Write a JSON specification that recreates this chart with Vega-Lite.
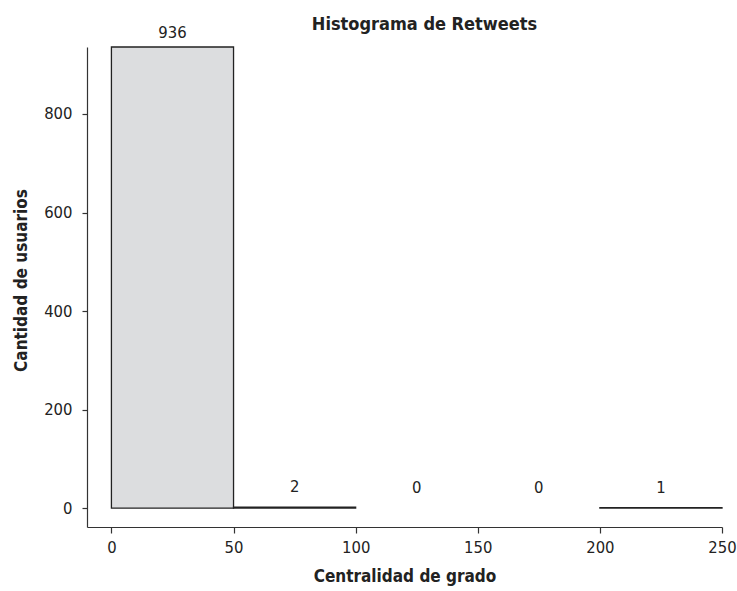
{
  "$schema": "https://vega.github.io/schema/vega-lite/v6.json",
  "width": 635,
  "height": 480,
  "autosize": {"type": "none"},
  "padding": {"left": 87, "top": 47, "right": 15, "bottom": 64},
  "background": "white",
  "config": {
    "view": {"stroke": null},
    "font": "DejaVu Sans Condensed, sans-serif"
  },
  "title": {
    "text": "Histograma de Retweets",
    "font": "DejaVu Sans Condensed, sans-serif",
    "fontSize": 18,
    "fontWeight": "bold",
    "color": "#222222",
    "anchor": "middle",
    "frame": "group",
    "dx": 20,
    "baseline": "alphabetic",
    "offset": -23
  },
  "data": {
    "values": [
      {"bin_start": 0, "bin_end": 50, "count": 936},
      {"bin_start": 50, "bin_end": 100, "count": 2},
      {"bin_start": 100, "bin_end": 150, "count": 0},
      {"bin_start": 150, "bin_end": 200, "count": 0},
      {"bin_start": 200, "bin_end": 250, "count": 1}
    ]
  },
  "transform": [{"calculate": "(datum.bin_start + datum.bin_end) / 2", "as": "mid"}],
  "layer": [
    {
      "transform": [{"filter": "datum.count > 0"}],
      "mark": {"type": "rect", "fill": "#dcdddf", "stroke": "#222222", "strokeWidth": 1.3},
      "encoding": {
        "x": {
          "field": "bin_start",
          "type": "quantitative",
          "scale": {"domain": [-10, 250], "nice": false, "zero": false},
          "axis": {
            "values": [0, 50, 100, 150, 200, 250],
            "title": "Centralidad de grado",
            "grid": false,
            "domainColor": "#333333",
            "domainWidth": 1.2,
            "tickColor": "#333333",
            "tickWidth": 1.2,
            "tickSize": 6,
            "labelFontSize": 16.5,
            "labelColor": "#222222",
            "labelPadding": 6,
            "labelFlush": false,
            "titleFontSize": 17,
            "titleFontWeight": "bold",
            "titleColor": "#222222",
            "titlePadding": 13
          }
        },
        "x2": {"field": "bin_end"},
        "y": {
          "field": "count",
          "type": "quantitative",
          "scale": {"domain": [-38.5, 936], "nice": false, "zero": false},
          "axis": {
            "values": [0, 200, 400, 600, 800],
            "title": "Cantidad de usuarios",
            "grid": false,
            "domainColor": "#333333",
            "domainWidth": 1.2,
            "tickColor": "#333333",
            "tickWidth": 1.2,
            "tickSize": 5,
            "labelFontSize": 16.5,
            "labelColor": "#222222",
            "labelPadding": 10,
            "labelFlush": false,
            "titleFontSize": 17,
            "titleFontWeight": "bold",
            "titleColor": "#222222",
            "titlePadding": 13,
            "titleY": 233,
            "titleAlign": "center"
          }
        },
        "y2": {"datum": 0}
      }
    },
    {
      "transform": [{"filter": "datum.count > 100"}],
      "mark": {"type": "text", "fontSize": 16.5, "color": "#222222", "baseline": "middle", "dy": -14},
      "encoding": {
        "x": {"field": "mid", "type": "quantitative"},
        "y": {"field": "count", "type": "quantitative"},
        "text": {"field": "count", "type": "quantitative"}
      }
    },
    {
      "transform": [{"filter": "datum.count <= 100"}],
      "mark": {"type": "text", "fontSize": 16.5, "color": "#222222", "baseline": "middle", "dy": -20},
      "encoding": {
        "x": {"field": "mid", "type": "quantitative"},
        "y": {"field": "count", "type": "quantitative"},
        "text": {"field": "count", "type": "quantitative"}
      }
    }
  ]
}
